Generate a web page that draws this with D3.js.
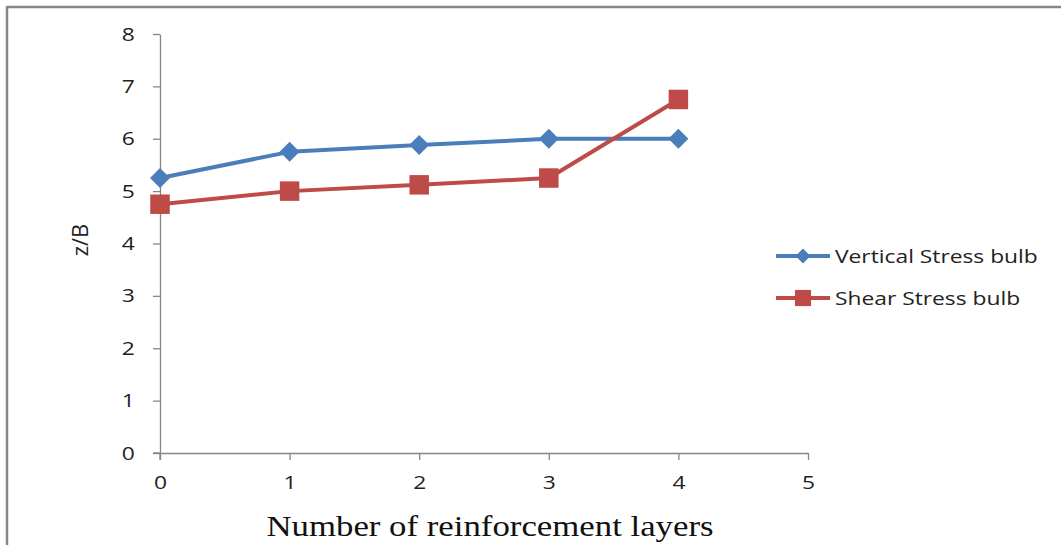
<!DOCTYPE html>
<html><head><meta charset="utf-8">
<script src="https://cdn.jsdelivr.net/npm/d3@7"></script>
<style>body{margin:0;background:#fff;}svg{display:block;}</style>
</head><body>
<svg id="c" width="1061" height="545"></svg>
<script>
const layers = [0, 1, 2, 3, 4];
const verticalBulb = [5.25, 5.75, 5.88, 6.0, 6.0];
const shearBulb = [4.75, 5.0, 5.12, 5.25, 6.75];
const xTicks = [0, 1, 2, 3, 4, 5];
const yTicks = [0, 1, 2, 3, 4, 5, 6, 7, 8];
const seriesNames = ["Vertical Stress bulb", "Shear Stress bulb"];
const xTitle = "Number of reinforcement layers";
const yTitle = "z/B";

const svg = d3.select("#c");
const blue = "#4A7EBB", red = "#BE4B48", grid = "#868686";
const font = "'Open Sans', 'DejaVu Sans', sans-serif";
const SX = 1.2;

// outer border
svg.append("line").attr("x1", 7).attr("x2", 1061).attr("y1", 7).attr("y2", 7).attr("stroke", grid).attr("stroke-width", 2.5);
svg.append("line").attr("x1", 7).attr("x2", 7).attr("y1", 6).attr("y2", 545).attr("stroke", grid).attr("stroke-width", 2.5);

const x = d3.scaleLinear().domain([0, 5]).range([160, 808]);
const y = d3.scaleLinear().domain([0, 8]).range([453, 34]);

const yAxis = svg.append("g").attr("transform", "translate(160,0)")
  .call(d3.axisLeft(y).tickValues(yTicks).tickFormat(d3.format("d")).tickSize(7).tickPadding(14).tickSizeOuter(0));
const xAxis = svg.append("g").attr("transform", "translate(0,453)")
  .call(d3.axisBottom(x).tickValues(xTicks).tickFormat(d3.format("d")).tickSize(7).tickPadding(16).tickSizeOuter(0));
[xAxis, yAxis].forEach(a => {
  a.select(".domain").attr("stroke", grid).attr("stroke-width", 1.3);
  a.selectAll(".tick line").attr("stroke", grid).attr("stroke-width", 1.3);
  a.selectAll(".tick text").attr("fill", "#222").attr("transform", `scale(${SX},1)`)
    .style("font-family", font).style("font-size", "19px");
});
svg.append("line").attr("x1", 160).attr("x2", 160).attr("y1", 453).attr("y2", 460).attr("stroke", grid).attr("stroke-width", 1.3);
svg.append("line").attr("x1", 153).attr("x2", 160).attr("y1", 453).attr("y2", 453).attr("stroke", grid).attr("stroke-width", 1.3);

const line = d3.line().x((d, i) => x(layers[i])).y(d => y(d));

function drawSeries(vals, color, shape) {
  svg.append("path").datum(vals).attr("d", line).attr("fill", "none")
    .attr("stroke", color).attr("stroke-width", 4).attr("stroke-linejoin", "round");
  const sym = shape === "diamond" ? d3.symbol().type(d3.symbolSquare).size(200) : d3.symbol().type(d3.symbolSquare).size(380);
  svg.append("g").selectAll("path").data(vals).join("path")
    .attr("d", sym)
    .attr("transform", (d, i) => `translate(${x(layers[i])},${y(d)})` + (shape === "diamond" ? " rotate(45)" : ""))
    .attr("fill", color);
}
drawSeries(verticalBulb, blue, "diamond");
drawSeries(shearBulb, red, "square");

// legend
const legend = [{name: seriesNames[0], color: blue, shape: "diamond", y: 256},
                {name: seriesNames[1], color: red, shape: "square", y: 298}];
legend.forEach(l => {
  svg.append("line").attr("x1", 776).attr("x2", 830).attr("y1", l.y).attr("y2", l.y)
    .attr("stroke", l.color).attr("stroke-width", 4);
  const sym = l.shape === "diamond" ? d3.symbol().type(d3.symbolSquare).size(110) : d3.symbol().type(d3.symbolSquare).size(260);
  svg.append("path").attr("d", sym)
    .attr("transform", `translate(803,${l.y})` + (l.shape === "diamond" ? " rotate(45)" : ""))
    .attr("fill", l.color);
  svg.append("text").attr("transform", `translate(835,${l.y + 7}) scale(${SX},1)`).text(l.name)
    .style("font-family", font).style("font-size", "19px").attr("fill", "#222");
});

// axis titles
svg.append("text").attr("transform", "translate(490,536) scale(1.16,1)").attr("text-anchor", "middle").text(xTitle)
  .style("font-family", "'Liberation Serif', 'Times New Roman', serif").style("font-size", "30px").attr("fill", "#111");
svg.append("text").attr("transform", "translate(88,240) rotate(-90)").attr("text-anchor", "middle").text(yTitle)
  .style("font-family", font).style("font-size", "22px").attr("fill", "#222");
</script>
</body></html>
